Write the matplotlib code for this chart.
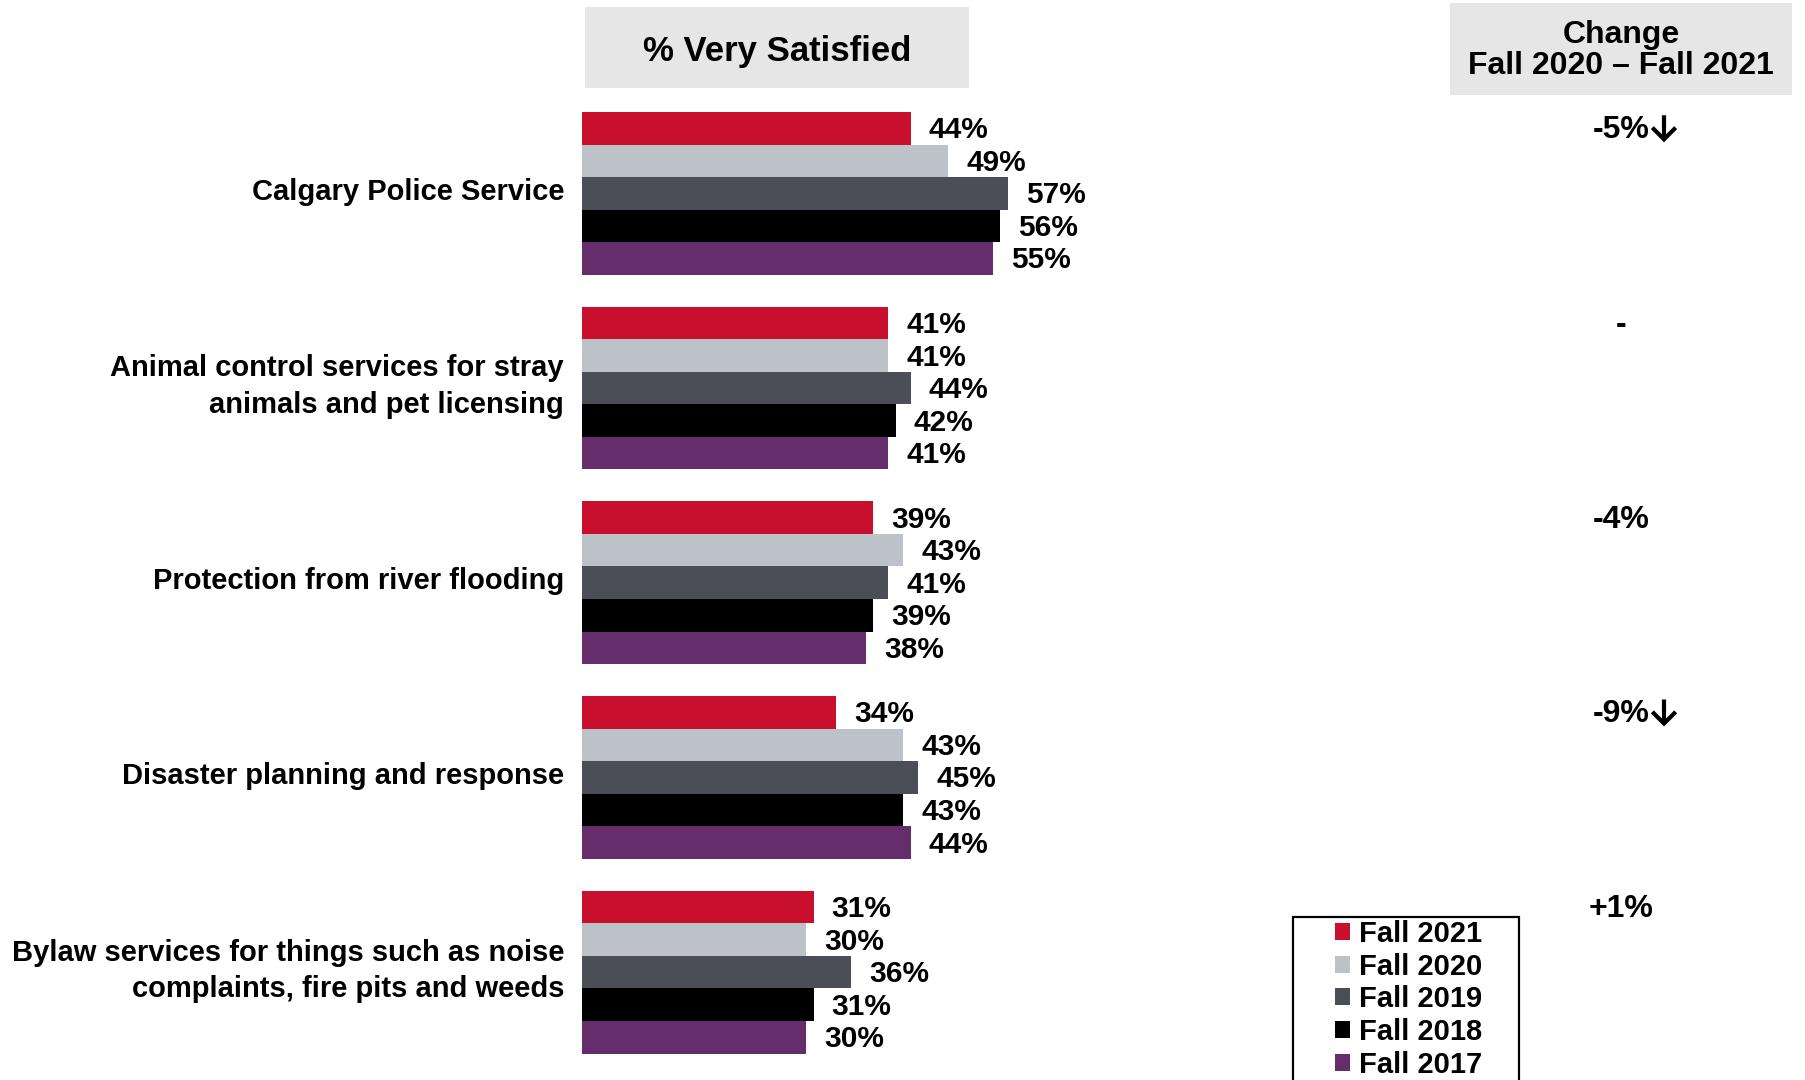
import matplotlib
matplotlib.use("Agg")
import matplotlib.pyplot as plt
from matplotlib.patches import Rectangle, Patch
from matplotlib.transforms import blended_transform_factory, ScaledTranslation

plt.rcParams['font.family'] = ['Liberation Sans', 'DejaVu Sans']
plt.rcParams['font.weight'] = 'bold'

categories = [
    "Calgary Police Service",
    "Animal control services for stray\nanimals and pet licensing",
    "Protection from river flooding",
    "Disaster planning and response",
    "Bylaw services for things such as noise\ncomplaints, fire pits and weeds",
]
series_names = ["Fall 2021", "Fall 2020", "Fall 2019", "Fall 2018", "Fall 2017"]
fall_2021 = [44, 41, 39, 34, 31]
fall_2020 = [49, 41, 43, 43, 30]
fall_2019 = [57, 44, 41, 45, 36]
fall_2018 = [56, 42, 39, 43, 31]
fall_2017 = [55, 41, 38, 44, 30]
change_labels = ["-5%", "-", "-4%", "-9%", "+1%"]
change_down = [True, False, False, True, False]

series = [fall_2021, fall_2020, fall_2019, fall_2018, fall_2017]
colors = ["#C8102E", "#BCC2C8", "#4B4E56", "#000000", "#652D6B"]

W, H = 1805, 1080
DPI = 100
fig = plt.figure(figsize=(W / DPI, H / DPI), dpi=DPI)

top_px, bot_px = 112, 1053.5
ax = fig.add_axes([582 / W, 1 - bot_px / H, 747 / W, (bot_px - top_px) / H])

h = 0.1669
for k, (vals, col, name) in enumerate(zip(series, colors, series_names)):
    ys = [i + (k - 2) * h for i in range(len(categories))]
    ax.barh(ys, vals, height=h, color=col, label=name, linewidth=0)
    for y, v in zip(ys, vals):
        ax.annotate(f"{v}%", xy=(v, y), xytext=(18, -2), textcoords='offset pixels',
                    ha='left', va='center', fontsize=21.5, fontweight='bold', color='black')

ax.set_xlim(0, 100)
ax.set_ylim(len(categories) - 1 + 2.5 * h, -2.5 * h)
ax.set_xticks([])
ax.set_yticks([])
for s in ax.spines.values():
    s.set_visible(False)

for i, cat in enumerate(categories):
    ax.annotate(cat, xy=(0, i), xycoords=('axes fraction', 'data'), xytext=(-18, 1.5),
                textcoords='offset pixels', ha='right', va='center', multialignment='right',
                fontsize=21, fontweight='bold', linespacing=1.38)

# Header boxes
fig.add_artist(Rectangle((584.7 / W, 1 - 88 / H), (969 - 584.7) / W, 81 / H,
                         transform=fig.transFigure, facecolor="#E6E6E6", edgecolor='none'))
fig.text(777 / W, 1 - 51 / H, "% Very Satisfied", ha='center', va='center',
         fontsize=25, fontweight='bold')
fig.add_artist(Rectangle((1450 / W, 1 - 95 / H), (1792 - 1450) / W, 92 / H,
                         transform=fig.transFigure, facecolor="#E6E6E6", edgecolor='none'))
fig.text(1621 / W, 1 - 50.5 / H, "Change\nFall 2020 \u2013 Fall 2021", ha='center', va='center',
         fontsize=23, fontweight='bold', linespacing=1.08)

# Change column
tr = blended_transform_factory(fig.transFigure, ax.transData)
text_tr = tr + ScaledTranslation(0, -2 / DPI, fig.dpi_scale_trans)
tip_tr = tr + ScaledTranslation(0, -14 / DPI, fig.dpi_scale_trans)
for i, (lab, down) in enumerate(zip(change_labels, change_down)):
    y = i - 2 * h
    ax.text(1621 / W, y, lab, transform=text_tr, ha='center', va='center',
            fontsize=23, fontweight='bold')
    if down:
        ax.annotate("", xy=(1664 / W, y), xycoords=tip_tr, xytext=(0, 27),
                    textcoords='offset pixels',
                    arrowprops=dict(arrowstyle='->,head_length=0.42,head_width=0.42',
                                    lw=3.0, color='black', mutation_scale=20,
                                    shrinkA=0, shrinkB=0, joinstyle='miter',
                                    capstyle='butt'))

# Legend
fig.add_artist(Rectangle((1293 / W, 1 - 1100 / H), (1519 - 1293) / W, (1100 - 917) / H,
                         transform=fig.transFigure, facecolor='white', edgecolor='black',
                         linewidth=1.6))
handles = [Patch(facecolor=c, edgecolor='none', label=n) for c, n in zip(colors, series_names)]
fig.legend(handles=handles, loc='upper left', bbox_to_anchor=(1335 / W, 1 - 920 / H),
           frameon=False, prop={'weight': 'bold', 'size': 21},
           handlelength=0.52, handleheight=0.52, handletextpad=0.3, labelspacing=0.16,
           borderpad=0, borderaxespad=0)

fig.savefig("out.png", dpi=DPI)
